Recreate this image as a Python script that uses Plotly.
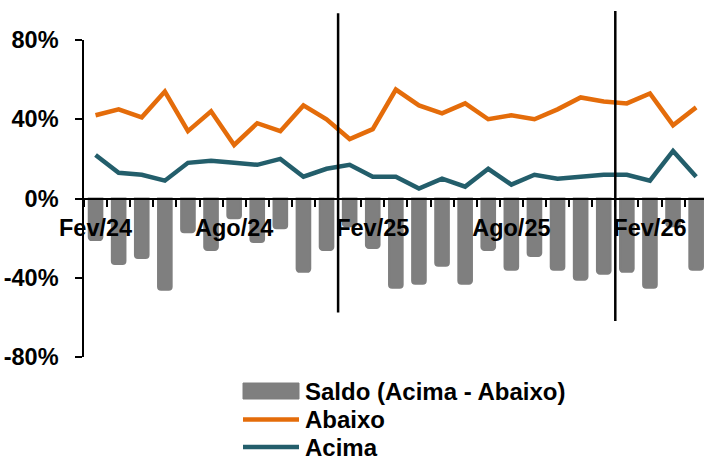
import plotly.graph_objects as go

# Monthly survey results, Feb/2024 - Apr/2026
meses = ["Fev/24", "Mar/24", "Abr/24", "Mai/24", "Jun/24", "Jul/24", "Ago/24",
         "Set/24", "Out/24", "Nov/24", "Dez/24", "Jan/25", "Fev/25", "Mar/25",
         "Abr/25", "Mai/25", "Jun/25", "Jul/25", "Ago/25", "Set/25", "Out/25",
         "Nov/25", "Dez/25", "Jan/26", "Fev/26", "Mar/26", "Abr/26"]
abaixo = [42, 45, 41, 54, 34, 44, 27, 38, 34, 47, 40, 30, 35, 55, 47, 43, 48,
          40, 42, 40, 45, 51, 49, 48, 53, 37, 46]
acima = [22, 13, 12, 9, 18, 19, 18, 17, 20, 11, 15, 17, 11, 11, 5, 10, 6, 15,
         7, 12, 10, 11, 12, 12, 9, 24, 11]
saldo = [-21, -33, -30, -46, -17, -26, -10, -22, -15, -37, -26, -14, -25, -45,
         -43, -34, -43, -26, -36, -29, -36, -41, -38, -37, -45, -14, -36]

series_names = ["Saldo (Acima - Abaixo)", "Abaixo", "Acima"]
y_ticks = [-80, -40, 0, 40, 80]
label_every = 6

GRAY = "#7f7f7f"
ORANGE = "#e46c0a"
TEAL = "#235e6b"
FONT = "Liberation Sans, Arial, sans-serif"

W, H = 704, 458
M_L, M_R, M_T, M_B = 84, 0, 40, 101

idx = list(range(len(meses)))
x_range = [-0.5, 26.34]
y_range = [-80, 80]

fig = go.Figure()
fig.add_trace(go.Bar(
    x=idx, y=saldo, name=series_names[0],
    marker=dict(color=GRAY, line=dict(color=GRAY, width=2), cornerradius=3),
))
fig.add_trace(go.Scatter(
    x=idx, y=abaixo, name=series_names[1], mode="lines",
    line=dict(color=ORANGE, width=4.5),
))
fig.add_trace(go.Scatter(
    x=idx, y=acima, name=series_names[2], mode="lines",
    line=dict(color=TEAL, width=4.5),
))


def to_paper_x(v):
    return (v - x_range[0]) / (x_range[1] - x_range[0])


def to_paper_y(v):
    return (v - y_range[0]) / (y_range[1] - y_range[0])


def px_x(p):
    return (p - M_L) / (W - M_L - M_R)


def px_y(p):
    return (H - M_B - p) / (H - M_T - M_B)


# year separators (Dec -> Jan), extending above and below the plot area
separators = [(10.5, -57.6, 93.5), (22.5, -61.8, 94.7)]
for xs, yb, yt in separators:
    fig.add_shape(type="line", xref="paper", yref="paper",
                  x0=to_paper_x(xs), x1=to_paper_x(xs),
                  y0=to_paper_y(yb), y1=to_paper_y(yt),
                  line=dict(color="black", width=2.5))

# legend block below the chart
leg_x0, leg_x1, txt_x = 243, 299, 303
leg_rows = [391, 419.5, 447]
fig.add_shape(type="rect", xref="paper", yref="paper",
              x0=px_x(leg_x0), x1=px_x(leg_x1),
              y0=px_y(leg_rows[0] + 8), y1=px_y(leg_rows[0] - 8),
              fillcolor=GRAY, line=dict(color=GRAY, width=1))
for row, col in zip(leg_rows[1:], [ORANGE, TEAL]):
    fig.add_shape(type="line", xref="paper", yref="paper",
                  x0=px_x(leg_x0), x1=px_x(leg_x1),
                  y0=px_y(row), y1=px_y(row),
                  line=dict(color=col, width=4.5))
for row, name in zip(leg_rows, series_names):
    fig.add_annotation(xref="paper", yref="paper", x=px_x(txt_x), y=px_y(row),
                       xanchor="left", yanchor="middle", showarrow=False,
                       text=name,
                       font=dict(family=FONT, size=24, color="black",
                                 weight="bold"))

tick_pos = idx[::label_every]
tick_txt = meses[::label_every]

fig.update_layout(
    width=W, height=H,
    margin=dict(l=M_L, r=M_R, t=M_T, b=M_B, autoexpand=False),
    paper_bgcolor="white", plot_bgcolor="white",
    font=dict(family=FONT, size=23.5, color="black", weight="bold"),
    bargap=0.41,
    showlegend=False,
    xaxis=dict(
        range=x_range, anchor="free", position=0.5,
        tickmode="array", tickvals=tick_pos, ticktext=tick_txt,
        ticks="outside", ticklen=7, tickcolor="rgba(0,0,0,0)",
        minor=dict(tickmode="linear", tick0=-0.5, dtick=1, ticks="outside",
                   ticklen=7, tickwidth=2, tickcolor="black"),
        showline=True, linecolor="black", linewidth=2,
        showgrid=False, zeroline=False,
        ticklabelstandoff=1,
    ),
    yaxis=dict(
        range=y_range, tickmode="array", tickvals=y_ticks,
        ticktext=[f"{v}%" for v in y_ticks],
        ticks="outside", ticklen=7, tickwidth=1.5, tickcolor="black",
        showline=True, linecolor="black", linewidth=1.5,
        showgrid=False, zeroline=False,
        ticklabelstandoff=12,
    ),
)

fig.write_html("out.html")
